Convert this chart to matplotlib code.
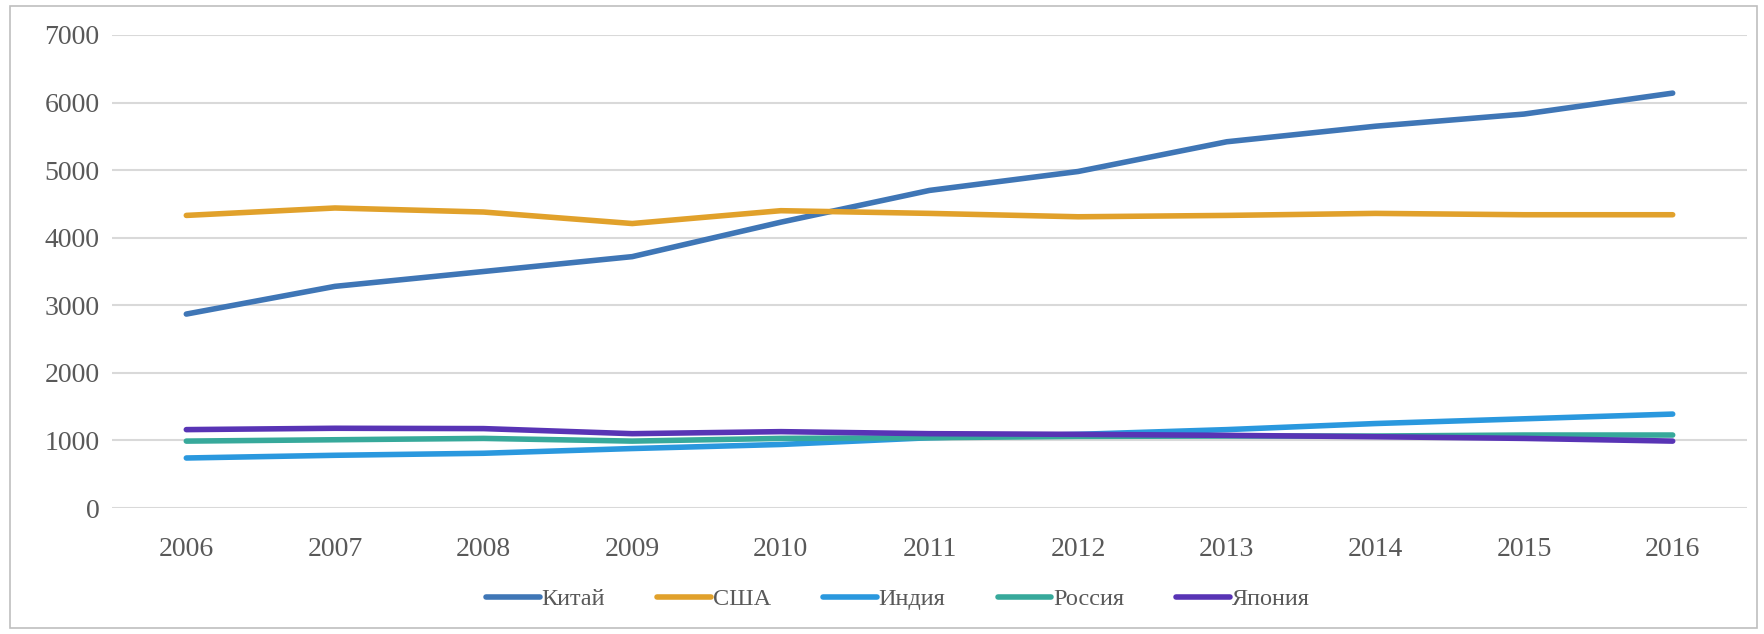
import numpy as np
import matplotlib.pyplot as plt
from matplotlib.patches import Rectangle

plt.rcParams['font.family'] = ['Liberation Serif', 'DejaVu Serif']

years = ['2006', '2007', '2008', '2009', '2010', '2011', '2012', '2013', '2014', '2015', '2016']

china = [2870, 3280, 3500, 3720, 4230, 4700, 4980, 5420, 5650, 5830, 6140]
usa = [4330, 4440, 4380, 4210, 4400, 4360, 4310, 4330, 4360, 4340, 4340]
india = [740, 780, 810, 880, 940, 1040, 1090, 1160, 1250, 1320, 1390]
russia = [990, 1010, 1030, 990, 1030, 1040, 1060, 1065, 1065, 1080, 1080]
japan = [1160, 1180, 1175, 1100, 1130, 1100, 1090, 1075, 1055, 1030, 990]

series = [
    ('Китай', china, '#3F76B6'),
    ('США', usa, '#E1A12B'),
    ('Индия', india, '#2A98DE'),
    ('Россия', russia, '#37A99B'),
    ('Япония', japan, '#5834B5'),
]

W, H = 1765, 634
fig = plt.figure(figsize=(W / 100, H / 100), dpi=100)
# axes box in pixels: left 112, right 1747, top 35, bottom 508
ax = fig.add_axes([112 / W, 1 - 508 / H, (1747 - 112) / W, (508 - 35) / H])

x = np.arange(len(years))
for name, vals, col in series:
    ax.plot(x, vals, color=col, lw=4.0, solid_capstyle='round', label=name)

ax.set_xlim(-0.5, len(years) - 0.5)
ax.set_ylim(0, 7000)
ax.set_yticks(np.arange(0, 7001, 1000))
ax.set_xticks(x)
ax.set_xticklabels(years)
ax.yaxis.grid(True, color='#D9D9D9', lw=1.5)
ax.set_axisbelow(True)
for s in ax.spines.values():
    s.set_visible(False)
ax.tick_params(length=0, labelsize=20, labelcolor='#595959')
ax.tick_params(axis='y', pad=9)
ax.tick_params(axis='x', pad=21)

leg = fig.legend(loc='center', bbox_to_anchor=(898 / W, 1 - 599 / H), ncol=5,
                 frameon=False, fontsize=17.5, handlelength=2.2, handletextpad=0.08,
                 columnspacing=2.15)
for t in leg.get_texts():
    t.set_color('#595959')

fig.patches.append(Rectangle((10 / W, 1 - 628 / H), (1757 - 10) / W, (628 - 6) / H,
                             transform=fig.transFigure, fill=False,
                             edgecolor='#BFBFBF', lw=1.2))

fig.savefig('out.png', dpi=100)
